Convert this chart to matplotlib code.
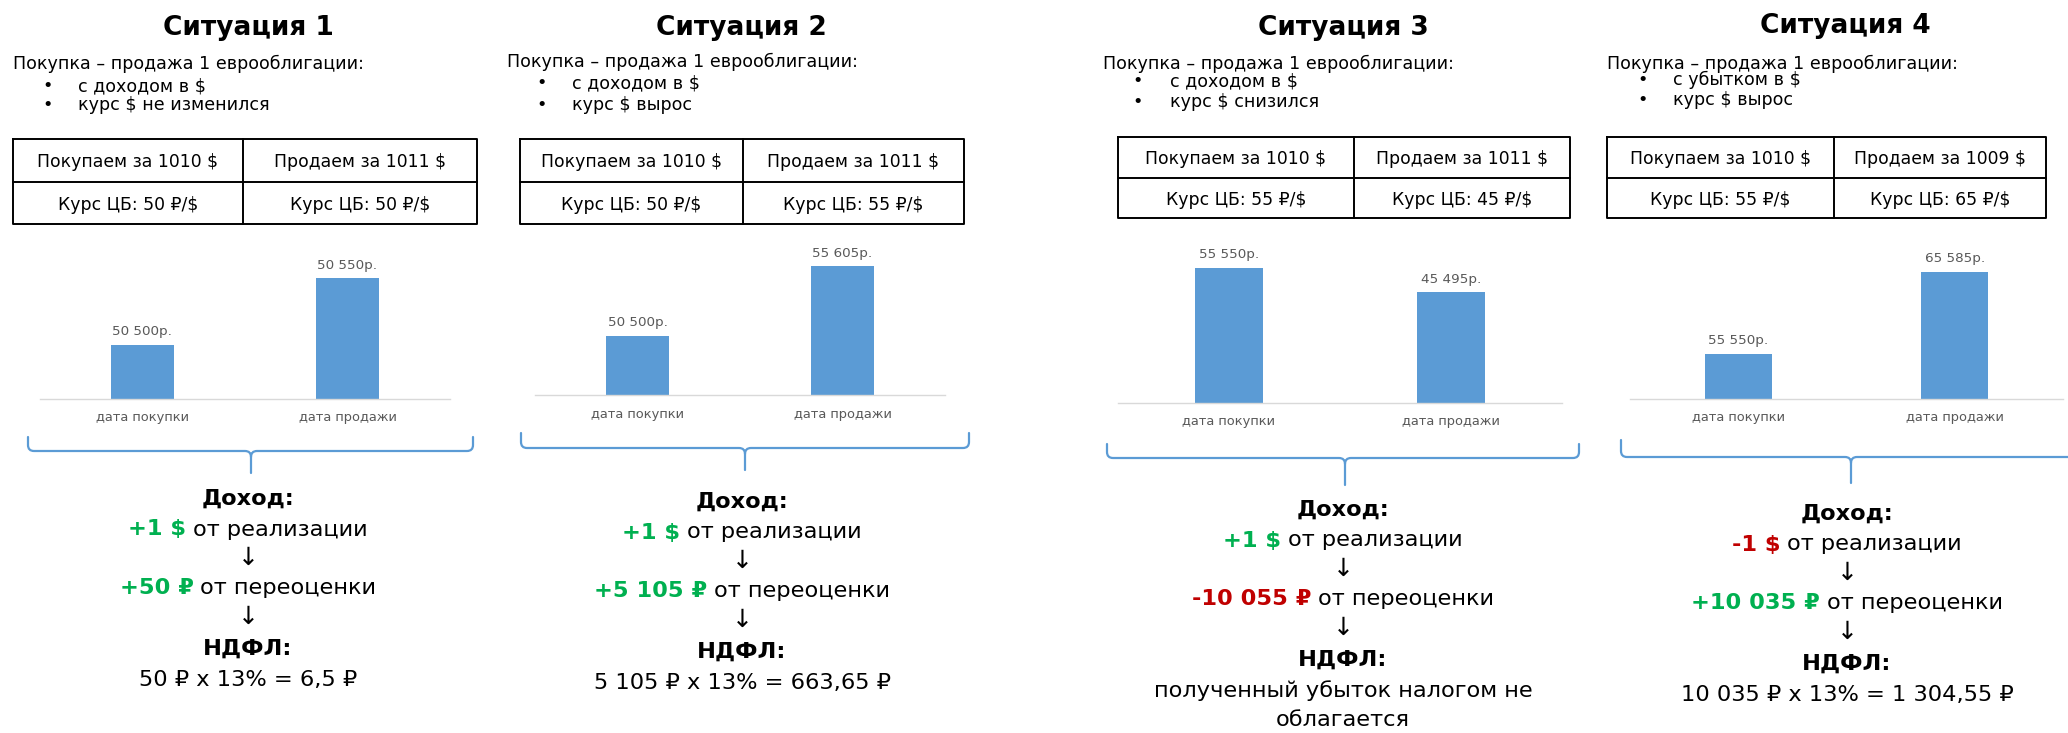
import numpy as np
import matplotlib
matplotlib.use("Agg")
import matplotlib.pyplot as plt
from matplotlib.path import Path
from matplotlib.patches import PathPatch

plt.rcParams['font.family'] = ['DejaVu Sans', 'Noto Sans']

# ---- data ----
titles = ["Ситуация 1", "Ситуация 2", "Ситуация 3", "Ситуация 4"]
subtitle = "Покупка – продажа 1 еврооблигации:"
bullets = [["с доходом в $", "курс $ не изменился"],
           ["с доходом в $", "курс $ вырос"],
           ["с доходом в $", "курс $ снизился"],
           ["с убытком в $", "курс $ вырос"]]
buy_usd = [1010, 1010, 1010, 1010]
sell_usd = [1011, 1011, 1011, 1009]
rate_buy = [50, 50, 55, 55]
rate_sell = [50, 55, 45, 65]
categories = ["дата покупки", "дата продажи"]
buy_rub = [50500, 50500, 55550, 55550]
sell_rub = [50550, 55605, 45495, 65585]
usd_result = ["+1 $", "+1 $", "+1 $", "-1 $"]
rub_result = ["+50 ₽", "+5 105 ₽", "-10 055 ₽", "+10 035 ₽"]
tax_lines = [["50 ₽ x 13% = 6,5 ₽"],
             ["5 105 ₽ x 13% = 663,65 ₽"],
             ["полученный убыток налогом не", "облагается"],
             ["10 035 ₽ x 13% = 1 304,55 ₽"]]
# value axis range of each small chart (like Excel axis min / max)
y_min = [50460, 46100, 0, 50000]
y_max = [50572, 57195, 61728, 68360]

# ---- layout (pixels, from top left) ----
W, H = 2068, 733
title_pos = [(248, 25), (741, 25), (1343, 25), (1845, 23)]
sub_pos = [(13, 62), (507, 60), (1103, 62), (1607, 62)]
bullet_x = [(48, 78), (542, 572), (1138, 1170), (1643, 1673)]
bullet_y = [(84, 103), (81, 103), (79, 100), (78, 98)]
table_box = [(13, 477, 139, 224, 243), (520, 964, 139, 224, 743),
             (1118, 1570, 137, 218, 1354), (1607, 2046, 137, 218, 1834)]
chart_box = [(40, 450, 399), (535, 945, 395), (1118, 1562, 403), (1630, 2063, 399)]
chart_h = 150
brace_box = [(28, 473, 437, 451, 251, 473), (521, 969, 433, 448, 745, 470),
             (1107, 1579, 444, 458, 1345, 485), (1621, 2078, 440, 457, 1851, 483)]
bottom_x = [248, 742, 1343, 1847]
bottom_y0 = [497, 500, 508, 512]
line_off = [0, 30.5, 58, 89, 117.5, 149.5, 181, 210]

BLUE = "#5B9BD5"
GREEN = "#00B050"
RED = "#C00000"
GREY = "#595959"

fig = plt.figure(figsize=(W / 100, H / 100), dpi=100)
ax0 = fig.add_axes([0, 0, 1, 1])
ax0.set_xlim(0, W)
ax0.set_ylim(H, 0)
ax0.axis("off")
renderer = fig.canvas.get_renderer()


def mixed(xc, y, colored, color, rest, size):
    t1 = ax0.text(0, y, colored, color=color, weight="bold", fontsize=size,
                  ha="left", va="center_baseline")
    t2 = ax0.text(0, y, rest, color="black", fontsize=size,
                  ha="left", va="center_baseline")
    w1 = t1.get_window_extent(renderer).width
    w2 = t2.get_window_extent(renderer).width
    gap = size * 0.42
    start = xc - (w1 + gap + w2) / 2
    t1.set_x(start)
    t2.set_x(start + w1 + gap)


def brace(x0, x1, yt, yh, xc, ys, r=6):
    verts = [(x0, yt), (x0, yh - r), (x0, yh), (x0 + r, yh), (xc - r, yh),
             (xc, yh), (xc, yh + r), (xc, ys),
             (x1, yt), (x1, yh - r), (x1, yh), (x1 - r, yh), (xc + r, yh),
             (xc, yh), (xc, yh + r)]
    codes = [Path.MOVETO, Path.LINETO, Path.CURVE3, Path.CURVE3, Path.LINETO,
             Path.CURVE3, Path.CURVE3, Path.LINETO,
             Path.MOVETO, Path.LINETO, Path.CURVE3, Path.CURVE3, Path.LINETO,
             Path.CURVE3, Path.CURVE3]
    ax0.add_patch(PathPatch(Path(verts, codes), fill=False, edgecolor=BLUE,
                            lw=1.6, capstyle="round"))


def fmt_rub(v):
    return f"{v:,}".replace(",", " ") + "р."


for i in range(4):
    # header
    tx, ty = title_pos[i]
    ax0.text(tx, ty, titles[i], fontsize=19, weight="bold", ha="center",
             va="center_baseline")
    sx, sy = sub_pos[i]
    ax0.text(sx, sy, subtitle, fontsize=12.6, ha="left", va="center_baseline")
    bx, btx = bullet_x[i]
    for j, line in enumerate(bullets[i]):
        ax0.text(bx, bullet_y[i][j], "•", fontsize=12.6, ha="center",
                 va="center_baseline")
        ax0.text(btx, bullet_y[i][j], line, fontsize=12.6, ha="left",
                 va="center_baseline")

    # table
    l, r, t, b, d = table_box[i]
    m = (t + b) / 2
    ax0.plot([l, r, r, l, l], [t, t, b, b, t], color="black", lw=1.4)
    ax0.plot([l, r], [m, m], color="black", lw=1.4)
    ax0.plot([d, d], [t, b], color="black", lw=1.4)
    cells = [(f"Покупаем за {buy_usd[i]} $", (l + d) / 2, (t + m) / 2),
             (f"Продаем за {sell_usd[i]} $", (d + r) / 2, (t + m) / 2),
             (f"Курс ЦБ: {rate_buy[i]} ₽/$", (l + d) / 2, (m + b) / 2),
             (f"Курс ЦБ: {rate_sell[i]} ₽/$", (d + r) / 2, (m + b) / 2)]
    for txt, cx, cy in cells:
        ax0.text(cx, cy, txt, fontsize=12.4, ha="center", va="center_baseline")

    # bar chart
    cl, cr, base = chart_box[i]
    ax = fig.add_axes([cl / W, 1 - base / H, (cr - cl) / W, chart_h / H])
    vals = [buy_rub[i], sell_rub[i]]
    x = np.arange(len(categories))
    bars = ax.bar(x, np.array(vals) - y_min[i], bottom=y_min[i], width=0.31,
                  color=BLUE)
    ax.bar_label(bars, labels=[fmt_rub(v) for v in vals], padding=5,
                 fontsize=9.7, color=GREY, clip_on=False)
    ax.set_xlim(-0.5, 1.5)
    ax.set_ylim(y_min[i], y_max[i])
    ax.set_xticks(x, categories, fontsize=9.4, color=GREY)
    ax.tick_params(axis="x", length=0, pad=9)
    ax.set_yticks([])
    for s in ["top", "left", "right"]:
        ax.spines[s].set_visible(False)
    ax.spines["bottom"].set_color("#D9D9D9")
    ax.spines["bottom"].set_linewidth(1.0)
    ax.patch.set_alpha(0)

    # brace
    brace(*brace_box[i])

    # result block
    xc = bottom_x[i]
    y0 = bottom_y0[i]
    fs = 16.2
    ax0.text(xc, y0 + line_off[0], "Доход:", fontsize=fs, weight="bold",
             ha="center", va="center_baseline")
    c1 = GREEN if usd_result[i].startswith("+") else RED
    mixed(xc, y0 + line_off[1], usd_result[i], c1, "от реализации", fs)
    ax0.text(xc, y0 + line_off[2], "↓", fontsize=18, ha="center",
             va="center_baseline")
    c2 = GREEN if rub_result[i].startswith("+") else RED
    mixed(xc, y0 + line_off[3], rub_result[i], c2, "от переоценки", fs)
    ax0.text(xc, y0 + line_off[4], "↓", fontsize=18, ha="center",
             va="center_baseline")
    ax0.text(xc, y0 + line_off[5], "НДФЛ:", fontsize=fs, weight="bold",
             ha="center", va="center_baseline")
    for k, line in enumerate(tax_lines[i]):
        ax0.text(xc, y0 + line_off[6 + k], line, fontsize=fs, ha="center",
                 va="center_baseline")

fig.savefig("out.png", dpi=100)
